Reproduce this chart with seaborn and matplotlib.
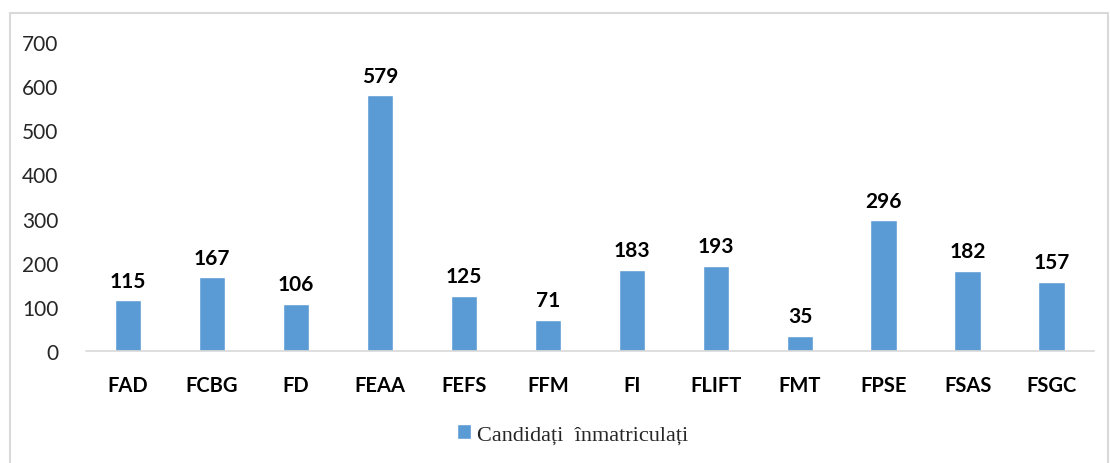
import matplotlib
matplotlib.use("Agg")
import matplotlib.pyplot as plt
from matplotlib.patches import Rectangle
import seaborn as sns
import pandas as pd

facultati = ["FAD", "FCBG", "FD", "FEAA", "FEFS", "FFM", "FI", "FLIFT", "FMT", "FPSE", "FSAS", "FSGC"]
candidati = [115, 167, 106, 579, 125, 71, 183, 193, 35, 296, 182, 157]
serie = "Candidați  înmatriculați"
yticks = [0, 100, 200, 300, 400, 500, 600, 700]

df = pd.DataFrame({"facultate": facultati, "valoare": candidati})

sns.set_style("white")
plt.rcParams["font.family"] = ["Lato", "DejaVu Sans"]

fig = plt.figure(figsize=(11.1, 4.64), dpi=100)
ax = fig.add_axes([0.0775, 0.2414, 0.908, 0.666])

culoare = "#5b9bd5"
sns.barplot(data=df, x="facultate", y="valoare", color=culoare, width=0.32,
            saturation=1, ax=ax, label=serie)

for i, v in enumerate(candidati):
    ax.text(i, v + 22, str(v), ha="center", va="bottom", fontsize=15,
            fontweight="bold", color="#000000")

ax.set_ylim(0, 700)
ax.set_xlim(-0.5, len(facultati) - 0.5)
ax.set_yticks(yticks)
ax.set_yticklabels([str(t) for t in yticks], fontsize=15, color="#262626")
ax.set_xticks(range(len(facultati)))
ax.set_xticklabels(facultati, fontsize=14.5, fontweight="bold", color="#000000")
ax.tick_params(axis="both", length=0)
ax.tick_params(axis="x", pad=17)
ax.tick_params(axis="y", pad=20)
ax.set_xlabel("")
ax.set_ylabel("")
for s in ["top", "right", "left"]:
    ax.spines[s].set_visible(False)
ax.spines["bottom"].set_color("#d9d9d9")
ax.spines["bottom"].set_linewidth(1.2)

leg = ax.legend(loc="center", bbox_to_anchor=(0.483, -0.27), frameon=False,
                prop={"family": "Liberation Serif", "size": 16},
                handlelength=0.6, handleheight=0.6, handletextpad=0.3)

fig.patches.append(Rectangle((10 / 1110, -0.05), 1098 / 1110, 1.02 - 14 / 464 + 0.03,
                             transform=fig.transFigure, fill=False,
                             edgecolor="#d9d9d9", linewidth=1.5))

fig.savefig("out.png", dpi=100)
